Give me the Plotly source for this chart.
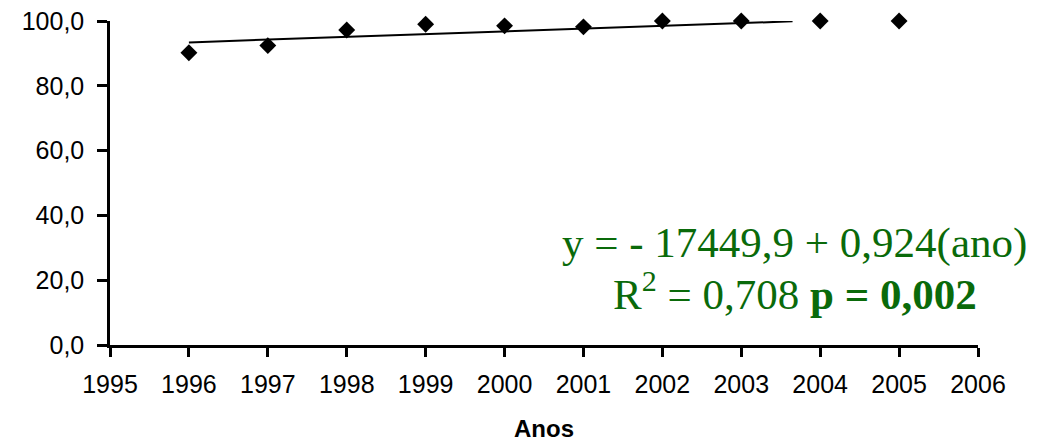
import plotly.graph_objects as go

years = [1996, 1997, 1998, 1999, 2000, 2001, 2002, 2003, 2004, 2005]
values = [90.2, 92.4, 97.2, 99.0, 98.5, 98.2, 100.0, 100.0, 100.0, 100.0]
trend_x = [1996, 2003.65]
trend_y = [93.4, 99.9]
x_ticks = list(range(1995, 2007))
y_ticks = [0, 20, 40, 60, 80, 100]

GREEN = "#0a6a0a"
SERIF = "Liberation Serif, Times New Roman, serif"

fig = go.Figure()
fig.add_trace(go.Scatter(x=trend_x, y=trend_y, mode="lines",
                         line=dict(color="black", width=2), cliponaxis=False,
                         showlegend=False, hoverinfo="skip"))
fig.add_trace(go.Scatter(x=years, y=values, mode="markers",
                         marker=dict(symbol="diamond", color="black", size=13),
                         cliponaxis=False, showlegend=False))

fig.update_layout(
    width=1041, height=443,
    margin=dict(l=110, r=63, t=21, b=98),
    plot_bgcolor="white", paper_bgcolor="white",
    separators=",.",
    font=dict(family="Liberation Sans, Arial, sans-serif", color="black", size=25),
    xaxis=dict(range=[1995, 2006], tickvals=x_ticks, showgrid=False, zeroline=False,
               automargin=False,
               showline=True, linecolor="black", linewidth=2.5,
               ticks="outside", ticklen=9, tickwidth=2.5, tickcolor="black",
               ticklabelstandoff=6,
               title=dict(text="<b>Anos</b>", font=dict(size=24), standoff=24)),
    yaxis=dict(range=[0, 100], tickvals=y_ticks, tickformat=".1f", showgrid=False,
               automargin=False,
               zeroline=False, showline=True, linecolor="black", linewidth=2.5,
               ticks="outside", ticklen=10, tickwidth=2.5, tickcolor="black",
               ticklabelstandoff=8),
)

fig.add_annotation(x=0.789, y=0.315, xref="paper", yref="paper", showarrow=False,
                   xanchor="center", yanchor="middle",
                   text="y = - 17449,9 + 0,924(ano)",
                   font=dict(family=SERIF, size=43, color=GREEN))
fig.add_annotation(x=0.789, y=0.167, xref="paper", yref="paper", showarrow=False,
                   xanchor="center", yanchor="middle",
                   text="R<sup>2</sup> = 0,708 <b>p = 0,002</b>",
                   font=dict(family=SERIF, size=43, color=GREEN))

fig.write_html("out.html", config={"displayModeBar": False},
               post_script="document.body.style.margin='0';document.body.style.overflow='hidden';")
